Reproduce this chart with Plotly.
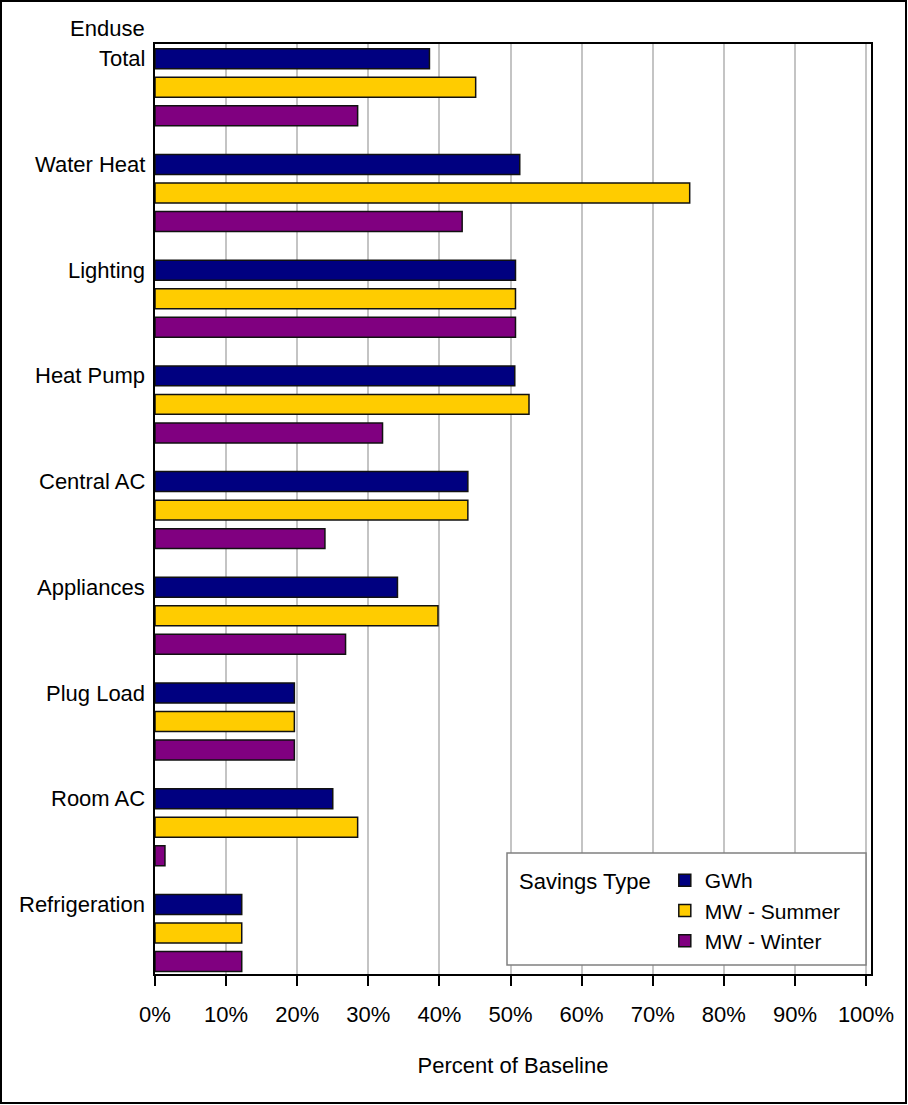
import plotly.graph_objects as go

categories = ["Total", "Water Heat", "Lighting", "Heat Pump", "Central AC",
              "Appliances", "Plug Load", "Room AC", "Refrigeration"]
gwh = [0.386, 0.513, 0.507, 0.506, 0.440, 0.341, 0.196, 0.250, 0.122]
mw_summer = [0.451, 0.752, 0.507, 0.526, 0.440, 0.398, 0.196, 0.285, 0.122]
mw_winter = [0.285, 0.432, 0.507, 0.320, 0.239, 0.268, 0.196, 0.014, 0.122]
series_names = ["GWh", "MW - Summer", "MW - Winter"]
series_colors = ["#000080", "#FFCC00", "#800080"]
x_ticks = [i / 10 for i in range(11)]

FONT = "Liberation Sans, Arial, sans-serif"

fig = go.Figure()
for name, vals, col in zip(series_names, [gwh, mw_summer, mw_winter], series_colors):
    fig.add_trace(go.Bar(
        y=categories, x=vals, name=name, orientation="h",
        marker=dict(color=col, line=dict(color="#111111", width=1.5)),
    ))

L, R, T, B = 155, 37, 44, 131
W, H = 908, 1105
pw, ph = W - L - R, H - T - B

def px(xp):
    return (xp - L) / pw

def py(yp):
    return (H - B - yp) / ph

shapes = [
    # outer border
    dict(type="rect", xref="paper", yref="paper", x0=px(1), x1=px(906), y0=py(1103), y1=py(1),
         line=dict(color="black", width=2), fillcolor="rgba(0,0,0,0)", layer="above"),
    # legend box
    dict(type="rect", xref="paper", yref="paper", x0=px(507), x1=px(866), y0=py(965), y1=py(853),
         line=dict(color="#808080", width=1.5), fillcolor="white", layer="above"),
]

annotations = []
for c in categories:
    annotations.append(dict(x=0, xref="paper", y=c, yref="y", text=c, showarrow=False,
                            xanchor="right", yanchor="middle", xshift=-8, yshift=28.5,
                            font=dict(family=FONT, size=22, color="black")))
annotations.append(dict(x=0, xref="paper", y="Total", yref="y", text="Enduse", showarrow=False,
                        xanchor="right", yanchor="middle", xshift=-8, yshift=59,
                        font=dict(family=FONT, size=22, color="black")))

fig.update_layout(
    width=W, height=H,
    margin=dict(l=L, r=R, t=T, b=B, pad=0),
    paper_bgcolor="white", plot_bgcolor="white",
    barmode="group", bargap=0.191, bargroupgap=0.30,
    font=dict(family=FONT, size=22, color="black"),
    showlegend=True,
    legend=dict(
        x=px(517), y=py(860), xanchor="left", yanchor="top",
        title=dict(text="Savings Type\u00a0", side="left", font=dict(size=22)),
        font=dict(size=21), bgcolor="rgba(0,0,0,0)", borderwidth=0,
        traceorder="normal", itemwidth=30, tracegroupgap=0,
    ),
    xaxis=dict(
        range=[0, 1.007], tickvals=x_ticks, tickformat=".0%",
        showgrid=True, gridcolor="#c4c4c4", gridwidth=1.5,
        showline=True, linecolor="black", linewidth=1.5, mirror=True,
        ticks="outside", ticklen=10, tickcolor="black", tickwidth=1.5,
        tickfont=dict(size=22), zeroline=False, ticklabelstandoff=10,
        title=dict(text="Percent of Baseline", font=dict(size=22), standoff=31),
    ),
    yaxis=dict(
        type="category", categoryorder="array", categoryarray=categories,
        range=[8.388, -0.409], showticklabels=False, showgrid=False,
        showline=True, linecolor="black", linewidth=1.5, mirror=True,
        ticks="", zeroline=False,
    ),
    shapes=shapes, annotations=annotations,
)

fig.write_html("out.html", config={"displayModeBar": False},
               post_script="document.body.style.margin='0px';")
